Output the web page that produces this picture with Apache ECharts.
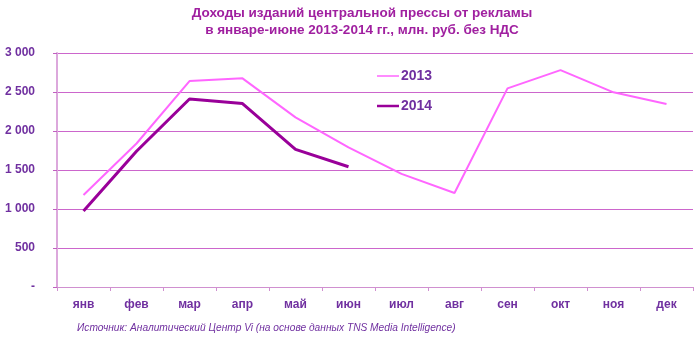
<!DOCTYPE html>
<html><head><meta charset="utf-8">
<script src="https://cdn.jsdelivr.net/npm/echarts@6/dist/echarts.min.js"></script>
<style>html,body{margin:0;padding:0;background:#fff}#c{width:700px;height:362px}</style>
</head><body><div id="c"></div>
<script>
const months = ['янв','фев','мар','апр','май','июн','июл','авг','сен','окт','ноя','дек'];
const values2013 = [1180, 1840, 2640, 2675, 2175, 1790, 1450, 1205, 2547, 2780, 2496, 2346];
const values2014 = [975, 1740, 2410, 2352, 1765, 1542];
const yTicks = [0, 500, 1000, 1500, 2000, 2500, 3000];
const titleLines = ['Доходы изданий центральной прессы от рекламы', 'в январе-июне 2013-2014 гг., млн. руб. без НДС'];
const sourceText = 'Источник: Аналитический Центр Vi (на основе данных TNS Media Intelligence)';

const labelColor = '#7030a0';
const chart = echarts.init(document.getElementById('c'), null, {renderer: 'canvas'});
chart.setOption({
  animation: false,
  title: {
    text: titleLines.join('\n'),
    left: 357, top: 0, textAlign: 'center',
    textStyle: {fontFamily: 'Liberation Sans', fontSize: 13.5, fontWeight: 'bold', color: '#a020a0', lineHeight: 17}
  },
  graphic: [{
    type: 'text', left: 77, top: 323,
    style: {text: sourceText, fontFamily: 'Liberation Sans', fontSize: 10.2, fontStyle: 'italic', fill: labelColor}
  }],
  legend: {
    orient: 'vertical', left: 372, top: 64, itemGap: 16,
    itemWidth: 22, itemHeight: 14,
    textStyle: {fontFamily: 'Liberation Sans', fontSize: 14, fontWeight: 'bold', color: labelColor, padding: [0,0,0,-3]},
    data: [
      {name: '2013', icon: 'path://M0,6.5L22,6.5L22,8L0,8Z', itemStyle: {color: '#ff66ff'}},
      {name: '2014', icon: 'path://M0,6L22,6L22,8.5L0,8.5Z', itemStyle: {color: '#990099'}}
    ]
  },
  grid: {left: 57, right: 7, top: 53, bottom: 75},
  xAxis: {
    type: 'category', data: months, boundaryGap: true,
    axisLine: {lineStyle: {color: '#d090d0', width: 1}},
    axisTick: {show: true, length: 4, lineStyle: {color: '#d090d0'}},
    axisLabel: {fontFamily: 'Liberation Sans', fontSize: 12, fontWeight: 'bold', color: labelColor, margin: 12}
  },
  yAxis: {
    type: 'value', min: yTicks[0], max: yTicks[yTicks.length-1], interval: 500,
    axisLine: {show: true, lineStyle: {color: '#dca8dc', width: 2}},
    axisTick: {show: true, length: 4, lineStyle: {color: '#c060c0'}},
    splitLine: {lineStyle: {color: '#cc66cc', width: 1}},
    axisLabel: {
      fontFamily: 'Liberation Sans', fontSize: 12, fontWeight: 'bold', color: labelColor, margin: 22,
      formatter: v => v === 0 ? '-' : String(v).replace(/\B(?=(\d{3})+(?!\d))/g, ' ')
    }
  },
  series: [
    {name: '2013', type: 'line', data: values2013, symbol: 'none', lineStyle: {color: '#ff66ff', width: 2}, itemStyle: {color: '#ff66ff'}},
    {name: '2014', type: 'line', data: values2014, symbol: 'none', lineStyle: {color: '#990099', width: 3}, itemStyle: {color: '#990099'}}
  ]
});
</script></body></html>
